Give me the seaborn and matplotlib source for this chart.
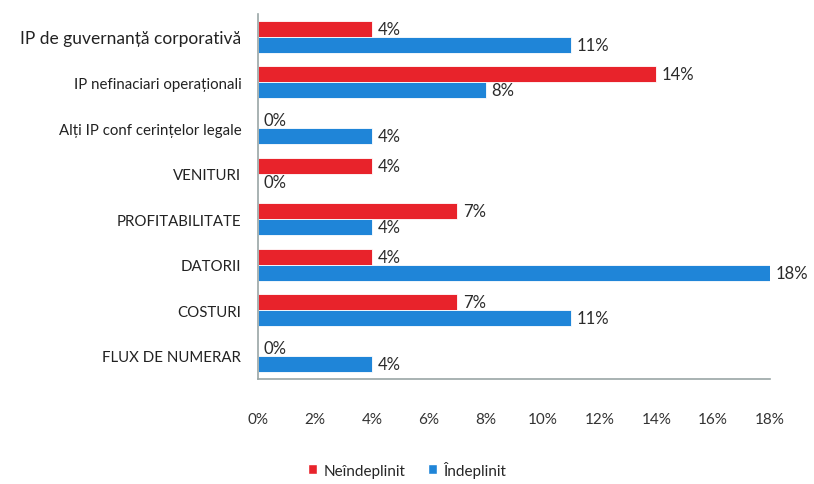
import numpy as np
import pandas as pd
import seaborn as sns
import matplotlib.pyplot as plt
from matplotlib.patches import Patch

sns.set_style("white")
plt.rcParams['font.family'] = ['Lato', 'DejaVu Sans']

# values (percent)
categories = ["IP de guvernanță corporativă", "IP nefinaciari operaționali",
              "Alți IP conf cerințelor legale", "VENITURI", "PROFITABILITATE",
              "DATORII", "COSTURI", "FLUX DE NUMERAR"]
neindeplinit = [4, 14, 0, 4, 7, 4, 7, 0]
indeplinit = [11, 8, 4, 0, 4, 18, 11, 4]
series = ["Neîndeplinit", "Îndeplinit"]
colors = ["#e8232b", "#1f85d8"]
xticks = [0, 2, 4, 6, 8, 10, 12, 14, 16, 18]

df = pd.DataFrame({
    "categorie": categories * 2,
    "valoare": neindeplinit + indeplinit,
    "serie": [series[0]] * len(categories) + [series[1]] * len(categories),
})

fig = plt.figure(figsize=(8.14, 4.85), dpi=100)
ax = fig.add_axes([0.317, 0.217, 0.629, 0.752])

sns.barplot(data=df, y="categorie", x="valoare", hue="serie", order=categories,
            hue_order=series, palette=colors, orient="h", width=0.70,
            gap=0.0, legend=False, ax=ax, saturation=1)

for container in ax.containers:
    for bar in container:
        bar.set_edgecolor("#ffffff")
        bar.set_linewidth(0.6)
    labels = [f"{v:.0f}%" for v in container.datavalues]
    ax.bar_label(container, labels=labels, padding=4, fontsize=12, color="#2b2b2b")

ax.set_xlim(0, 18)
ax.set_xticks(xticks)
ax.set_xticklabels([f"{t}%" for t in xticks], fontsize=11, color="#333333")
ax.tick_params(axis="x", length=0, pad=24)
ax.tick_params(axis="y", length=0, pad=12)
ax.set_xlabel("")
ax.set_ylabel("")

for i, lab in enumerate(ax.get_yticklabels()):
    lab.set_color("#222222")
    lab.set_fontsize(12.5 if i == 0 else 10.8)

for s in ["top", "right"]:
    ax.spines[s].set_visible(False)
for s in ["left", "bottom"]:
    ax.spines[s].set_color("#9aa6a6")
    ax.spines[s].set_linewidth(1.2)

handles = [Patch(facecolor=c, label=l) for c, l in zip(colors, series)]
fig.legend(handles=handles, loc="lower center", bbox_to_anchor=(0.5, -0.015),
           ncol=2, frameon=False, fontsize=11, handlelength=0.6,
           handleheight=0.6, handletextpad=0.4, columnspacing=1.5)

fig.savefig("out.png", dpi=100)
